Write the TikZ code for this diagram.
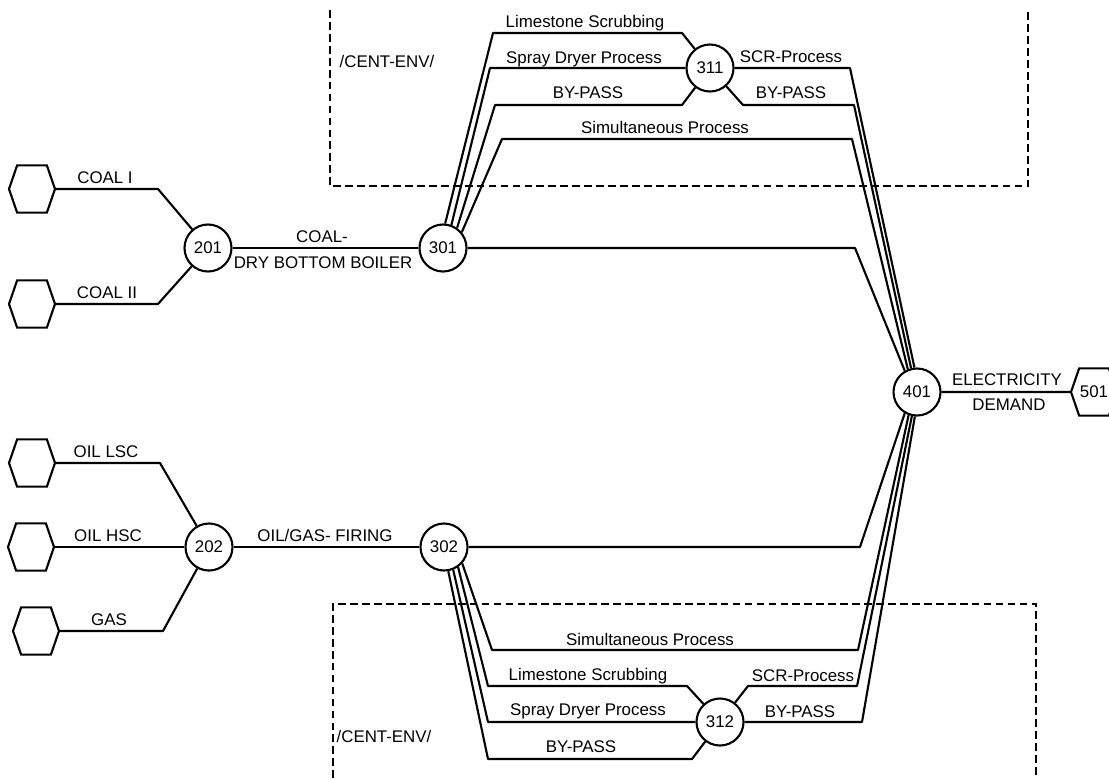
\documentclass[tikz,border=0pt]{standalone}
\usepackage{fontspec}
\setsansfont{Liberation Sans}
\usetikzlibrary{shapes.symbols}

\tikzset{
	flow/.style={line width=1.5pt, line join=round},
	unit/.style={circle, draw, line width=1.5pt, minimum size=1.175cm, inner sep=0pt},
	source/.style={signal, signal to=east and west, signal pointer angle=142, draw, line width=1.5pt,
		minimum width=1.15cm, minimum height=1.18cm, inner sep=0pt},
	envbox/.style={line width=1.3pt, dash pattern=on 5.5pt off 3pt},
	lbl/.style={anchor=base, inner sep=0pt},
}

\begin{document}
\begin{tikzpicture}[x=0.025cm, y=-0.025cm, font=\sffamily\fontsize{12}{14}\selectfont]
			\useasboundingbox (0,0) rectangle (1109,778);

			% environmental boxes
			\draw	[envbox]	(330,10) -- (330,186) -- (1028,186) -- (1028,10);
			\draw	[envbox]	(333,790) -- (333,604) -- (1036,604) -- (1036,790);
			\node	(env1)	at	(387,67)	[lbl]	{/CENT-ENV/};
			\node	(env2)	at	(384,742)	[lbl]	{/CENT-ENV/};

			% sources and units
			\node	(s1)	at	(32,189)	[source]	{};
			\node	(s2)	at	(32,304)	[source]	{};
			\node	(s3)	at	(32,463)	[source]	{};
			\node	(s4)	at	(31,547)	[source]	{};
			\node	(s5)	at	(36,631)	[source]	{};
			\node	(s6)	at	(1094,392)	[source]	{501};

			\node	(c201)	at	(208,248)	[unit]	{201};
			\node	(c202)	at	(209,547)	[unit]	{202};
			\node	(c301)	at	(443,248)	[unit]	{301};
			\node	(c302)	at	(444,547)	[unit]	{302};
			\node	(c311)	at	(710,68)	[unit]	{311};
			\node	(c312)	at	(720,722)	[unit]	{312};
			\node	(c401)	at	(917,392)	[unit]	{401};

			% fuel supply
			\draw	[flow]	(s1.east) -- (158,189) -- (c201);
			\draw	[flow]	(s2.east) -- (158,304) -- (c201);
			\draw	[flow]	(s3.east) -- (160,463) -- (c202);
			\draw	[flow]	(s4.east) -- (c202);
			\draw	[flow]	(s5.east) -- (163,631) -- (c202);
			\node	(l1)	at	(105,183)	[lbl]	{COAL I};
			\node	(l2)	at	(107,298)	[lbl]	{COAL II};
			\node	(l3)	at	(106,457)	[lbl]	{OIL LSC};
			\node	(l4)	at	(108,541)	[lbl]	{OIL HSC};
			\node	(l5)	at	(109,625)	[lbl]	{GAS};

			% boilers
			\draw	[flow]	(c201) -- (c301);
			\draw	[flow]	(c202) -- (c302);
			\node	(l6)	at	(322,242)	[lbl]	{COAL-};
			\node	(l7)	at	(323,268)	[lbl]	{DRY BOTTOM BOILER};
			\node	(l8)	at	(325,541)	[lbl]	{OIL/GAS- FIRING};

			% coal: flue gas treatment
			\draw	[flow]	(c301.85) -- (493,33) -- (682,33) -- (c311);
			\draw	[flow]	(c301.70) -- (490,68) -- (c311);
			\draw	[flow]	(c301.55) -- (495,105) -- (682,105) -- (c311);
			\draw	[flow]	(c301.40) -- (502,139) -- (852,139) -- (c401.112);
			\draw	[flow]	(c311) -- (850,68) -- (c401.96);
			\draw	[flow]	(c311) -- (743,105) -- (854,105) -- (c401.104);
			\draw	[flow]	(c301) -- (855,248) -- (c401.120);
			\node	(l9)	at	(585,27)	[lbl]	{Limestone Scrubbing};
			\node	(l10)	at	(584,63)	[lbl]	{Spray Dryer Process};
			\node	(l11)	at	(588,98)	[lbl]	{BY-PASS};
			\node	(l12)	at	(665,133)	[lbl]	{Simultaneous Process};
			\node	(l13)	at	(791,62)	[lbl]	{SCR-Process};
			\node	(l14)	at	(791,98)	[lbl]	{BY-PASS};

			% oil/gas: flue gas treatment
			\draw	[flow]	(c302) -- (860,547) -- (c401.240);
			\draw	[flow]	(c302.318) -- (492,650) -- (858,650) -- (c401.250);
			\draw	[flow]	(c302.305) -- (488,686) -- (687,686) -- (c312);
			\draw	[flow]	(c302.292) -- (488,722) -- (c312);
			\draw	[flow]	(c302.280) -- (488,759) -- (692,759) -- (c312);
			\draw	[flow]	(c312) -- (748,686) -- (857,686) -- (c401.258);
			\draw	[flow]	(c312) -- (862,722) -- (c401.265);
			\node	(l15)	at	(650,645)	[lbl]	{Simultaneous Process};
			\node	(l16)	at	(588,680)	[lbl]	{Limestone Scrubbing};
			\node	(l17)	at	(588,715)	[lbl]	{Spray Dryer Process};
			\node	(l18)	at	(581,752)	[lbl]	{BY-PASS};
			\node	(l19)	at	(803,681)	[lbl]	{SCR-Process};
			\node	(l20)	at	(800,717)	[lbl]	{BY-PASS};

			% demand
			\draw	[flow]	(c401) -- (s6);
			\node	(l21)	at	(1007,385)	[lbl]	{ELECTRICITY};
			\node	(l22)	at	(1009,410)	[lbl]	{DEMAND};
		\end{tikzpicture}
\end{document}
